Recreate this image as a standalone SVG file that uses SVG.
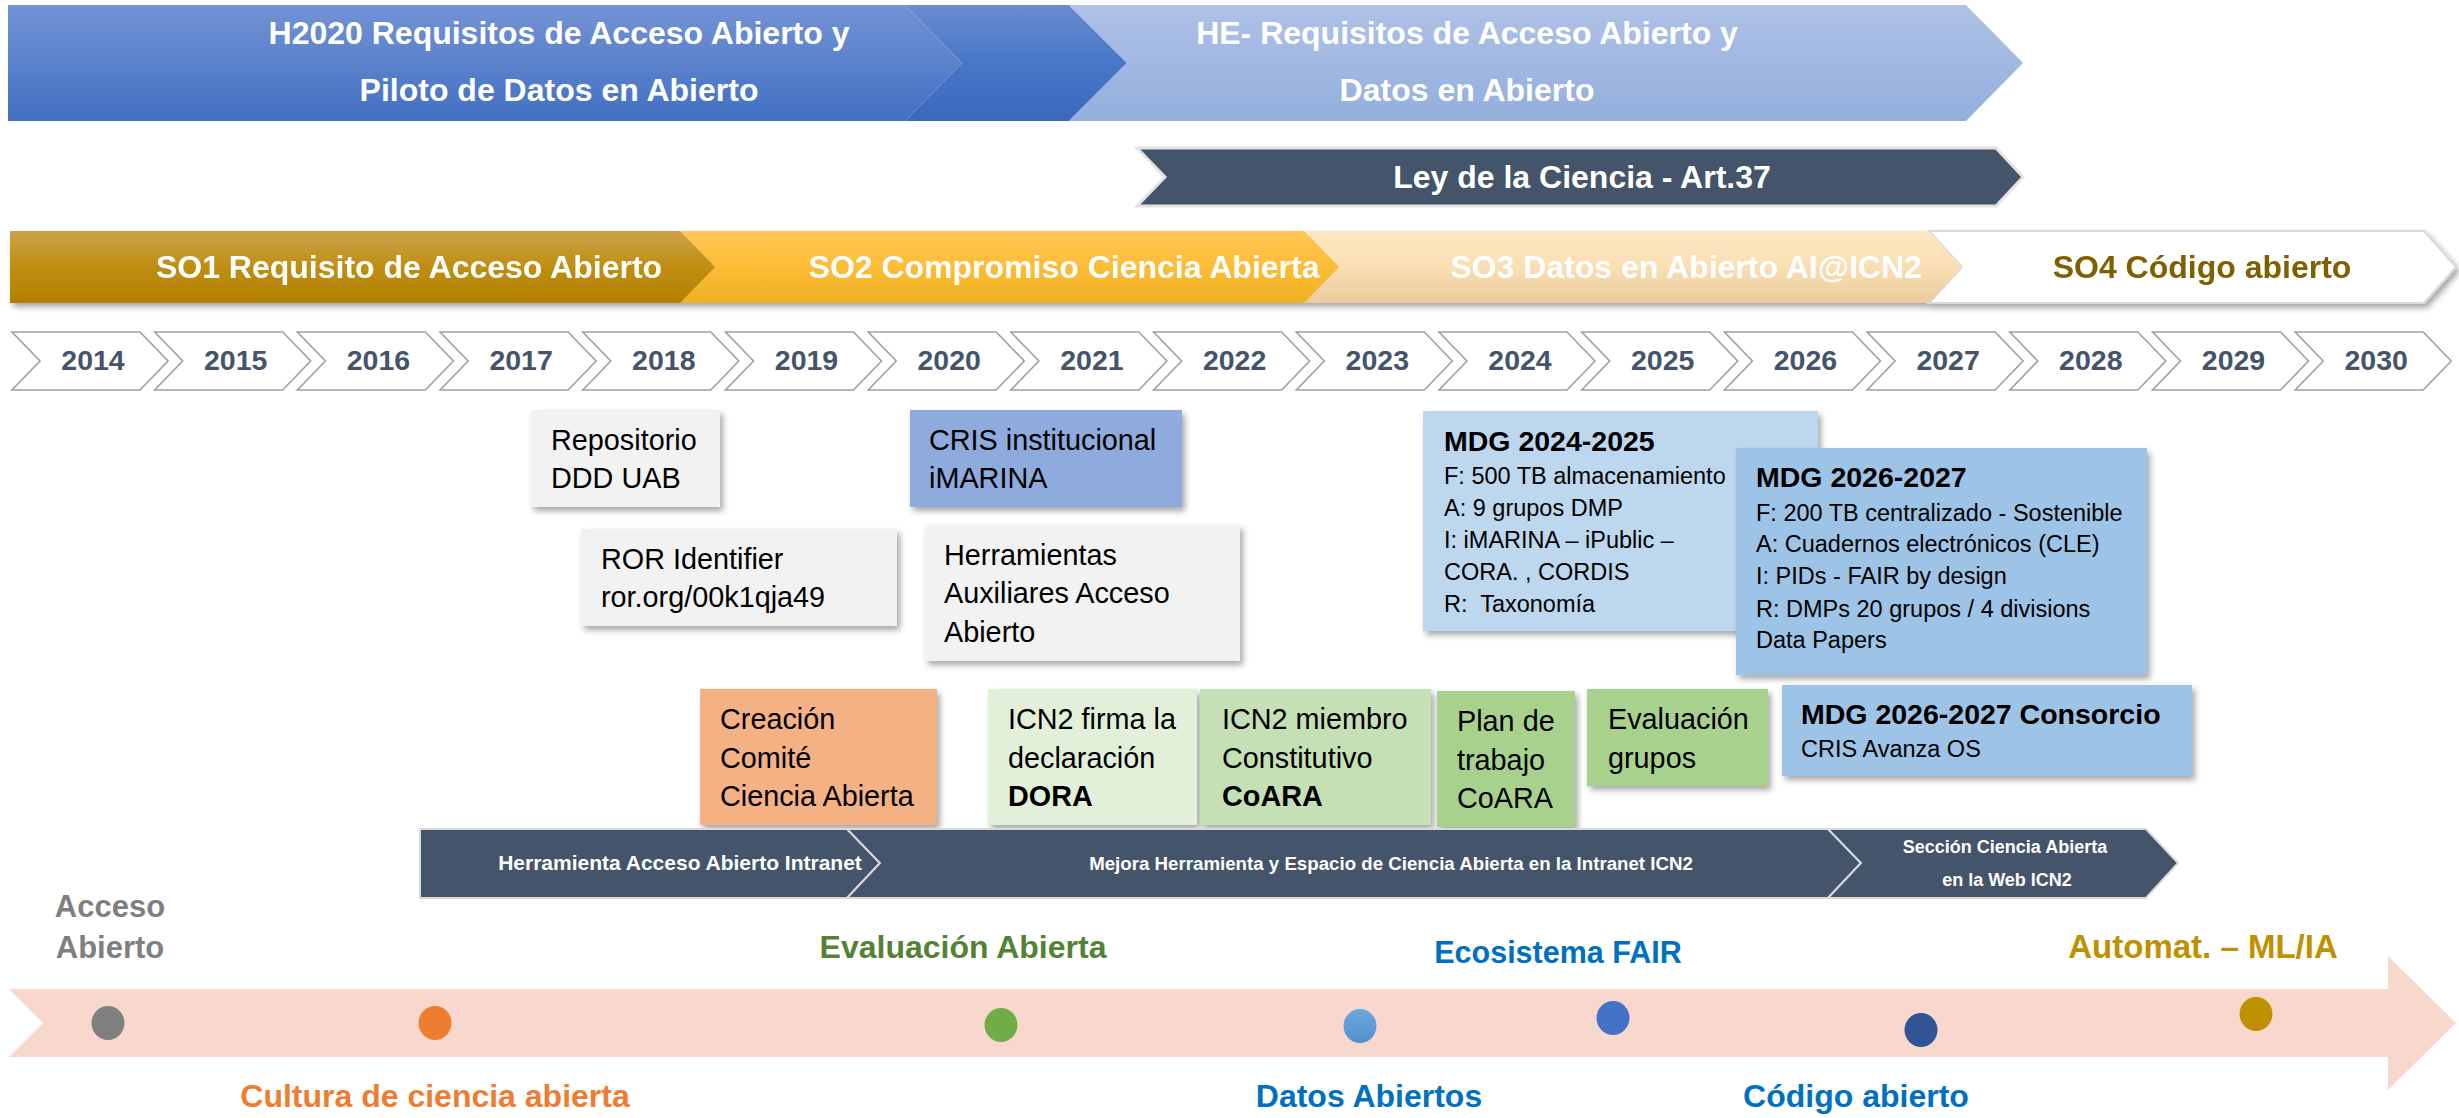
<svg xmlns="http://www.w3.org/2000/svg" xmlns:xlink="http://www.w3.org/1999/xlink" width="2459" height="1118" viewBox="0 0 2459 1118">
<style>
text{font-family:"Liberation Sans",Arial,sans-serif;}
.bw{fill:#ffffff;font-weight:bold;font-size:32px;text-anchor:middle;}
.yr{fill:#44546a;font-weight:bold;font-size:28.5px;text-anchor:middle;}
.bx{fill:#000000;font-size:28.8px;}
.bxb{font-weight:bold;}
.md{fill:#000000;font-size:23.5px;}
.mdt{fill:#000000;font-size:28.5px;font-weight:bold;}
.lab{font-weight:bold;font-size:32px;text-anchor:middle;}
.band{fill:#44546a;stroke:#d9d9d9;stroke-width:2;}
.ybox{fill:#ffffff;stroke:#a0a0a0;stroke-width:1.6;}
</style>
<defs>
<linearGradient id="gH" x1="0" y1="0" x2="0" y2="1"><stop offset="0" stop-color="#7393d4"/><stop offset="1" stop-color="#4270c2"/></linearGradient>
<linearGradient id="gH2" x1="0" y1="0" x2="0" y2="1"><stop offset="0" stop-color="#6a8bd1"/><stop offset="0.5" stop-color="#4877c8"/><stop offset="1" stop-color="#3c68bd"/></linearGradient>
<linearGradient id="gHE" x1="0" y1="0" x2="0" y2="1"><stop offset="0" stop-color="#afc1e7"/><stop offset="1" stop-color="#93afdc"/></linearGradient>
<linearGradient id="gS1" x1="0" y1="0" x2="0" y2="1"><stop offset="0" stop-color="#cba24e"/><stop offset="0.5" stop-color="#c08e10"/><stop offset="1" stop-color="#b27f00"/></linearGradient>
<linearGradient id="gS2" x1="0" y1="0" x2="0" y2="1"><stop offset="0" stop-color="#ffc655"/><stop offset="0.5" stop-color="#fcbd36"/><stop offset="1" stop-color="#efb022"/></linearGradient>
<linearGradient id="gS3" x1="0" y1="0" x2="0" y2="1"><stop offset="0" stop-color="#fee6c2"/><stop offset="0.5" stop-color="#fadfb4"/><stop offset="1" stop-color="#e9cb9c"/></linearGradient>
<linearGradient id="gDot" x1="0" y1="0" x2="0" y2="1"><stop offset="0" stop-color="#6fa8dc"/><stop offset="1" stop-color="#4f8fd0"/></linearGradient>
<filter id="sh" x="-5%" y="-10%" width="110%" height="140%">
<feGaussianBlur in="SourceAlpha" stdDeviation="3"/>
<feOffset dx="3" dy="4" result="o"/>
<feComponentTransfer><feFuncA type="linear" slope="0.35"/></feComponentTransfer>
<feMerge><feMergeNode/><feMergeNode in="SourceGraphic"/></feMerge>
</filter>
<polygon id="yrshape" points="0,332 128,332 156,361 128,390 0,390 28,361"/>
</defs>

<g id="banner-h2020">
<polygon points="8,5 905,5 962,63 905,121 8,121" fill="url(#gH)"/>
<polygon points="905,5 1069,5 1127,63 1069,121 905,121 962,63" fill="url(#gH2)"/>
<text class="bw" x="559" y="44">H2020 Requisitos de Acceso Abierto y</text>
<text class="bw" x="559" y="101">Piloto de Datos en Abierto</text>
</g>
<g id="banner-he">
<polygon points="1069,5 1966,5 2023,63 1966,121 1069,121 1127,63" fill="url(#gHE)"/>
<text class="bw" x="1467" y="44">HE- Requisitos de Acceso Abierto y</text>
<text class="bw" x="1467" y="101">Datos en Abierto</text>
</g>
<g id="banner-ley">
<polygon points="1137,148 1996,148 2023,177 1996,206 1137,206 1165,177" fill="#44546a" stroke="#e3e3e3" stroke-width="3"/>
<text class="bw" x="1582" y="188">Ley de la Ciencia - Art.37</text>
</g>

<g id="so-row" filter="url(#sh)">
<g id="so4">
<polygon points="1929,231 2424,231 2456,267 2424,303 1929,303 1962,267" fill="#ffffff" stroke="#d9d9d9" stroke-width="2"/>
<text class="bw" x="2202" y="278" style="fill:#7f6000">SO4 Código abierto</text>
</g>
<g id="so3">
<polygon points="1304,231 1929,231 1962,267 1929,303 1304,303 1339,267" fill="url(#gS3)"/>
<text class="bw" x="1686" y="278">SO3 Datos en Abierto AI@ICN2</text>
</g>
<g id="so2">
<polygon points="680,231 1304,231 1339,267 1304,303 680,303 715,267" fill="url(#gS2)"/>
<text class="bw" x="1064" y="278">SO2 Compromiso Ciencia Abierta</text>
</g>
<g id="so1">
<polygon points="10,231 680,231 715,267 680,303 10,303" fill="url(#gS1)"/>
<text class="bw" x="409" y="278">SO1 Requisito de Acceso Abierto</text>
</g>
</g>

<g id="years">
<use href="#yrshape" x="12" class="ybox"/><text class="yr" x="93" y="370">2014</text>
<use href="#yrshape" x="154.7" class="ybox"/><text class="yr" x="235.7" y="370">2015</text>
<use href="#yrshape" x="297.4" class="ybox"/><text class="yr" x="378.4" y="370">2016</text>
<use href="#yrshape" x="440.1" class="ybox"/><text class="yr" x="521.1" y="370">2017</text>
<use href="#yrshape" x="582.8" class="ybox"/><text class="yr" x="663.8" y="370">2018</text>
<use href="#yrshape" x="725.5" class="ybox"/><text class="yr" x="806.5" y="370">2019</text>
<use href="#yrshape" x="868.2" class="ybox"/><text class="yr" x="949.2" y="370">2020</text>
<use href="#yrshape" x="1010.9" class="ybox"/><text class="yr" x="1091.9" y="370">2021</text>
<use href="#yrshape" x="1153.6" class="ybox"/><text class="yr" x="1234.6" y="370">2022</text>
<use href="#yrshape" x="1296.3" class="ybox"/><text class="yr" x="1377.3" y="370">2023</text>
<use href="#yrshape" x="1439" class="ybox"/><text class="yr" x="1520" y="370">2024</text>
<use href="#yrshape" x="1581.7" class="ybox"/><text class="yr" x="1662.7" y="370">2025</text>
<use href="#yrshape" x="1724.4" class="ybox"/><text class="yr" x="1805.4" y="370">2026</text>
<use href="#yrshape" x="1867.1" class="ybox"/><text class="yr" x="1948.1" y="370">2027</text>
<use href="#yrshape" x="2009.8" class="ybox"/><text class="yr" x="2090.8" y="370">2028</text>
<use href="#yrshape" x="2152.5" class="ybox"/><text class="yr" x="2233.5" y="370">2029</text>
<use href="#yrshape" x="2295.2" class="ybox"/><text class="yr" x="2376.2" y="370">2030</text>
</g>

<g id="box-repositorio">
<rect x="531" y="410" width="189" height="97" fill="#f2f2f2" filter="url(#sh)"/>
<text class="bx" x="551" y="450">Repositorio</text>
<text class="bx" x="551" y="488">DDD UAB</text>
</g>
<g id="box-cris">
<rect x="910" y="410" width="272" height="97" fill="#8faadc" filter="url(#sh)"/>
<text class="bx" x="929" y="450">CRIS institucional</text>
<text class="bx" x="929" y="488">iMARINA</text>
</g>
<g id="box-ror">
<rect x="581" y="529" width="316" height="97" fill="#f2f2f2" filter="url(#sh)"/>
<text class="bx" x="601" y="569">ROR Identifier</text>
<text class="bx" x="601" y="607">ror.org/00k1qja49</text>
</g>
<g id="box-herramientas">
<rect x="925" y="525" width="315" height="136" fill="#f2f2f2" filter="url(#sh)"/>
<text class="bx" x="944" y="565">Herramientas</text>
<text class="bx" x="944" y="603">Auxiliares Acceso</text>
<text class="bx" x="944" y="642">Abierto</text>
</g>
<g id="box-mdg2024">
<rect x="1423" y="411" width="395" height="220" fill="#bdd7ee" filter="url(#sh)"/>
<text class="mdt" x="1444" y="451">MDG 2024-2025</text>
<text class="md" x="1444" y="484">F: 500 TB almacenamiento</text>
<text class="md" x="1444" y="516">A: 9 grupos DMP</text>
<text class="md" x="1444" y="548">I: iMARINA – iPublic –</text>
<text class="md" x="1444" y="580">CORA. , CORDIS</text>
<text class="md" x="1444" y="612" xml:space="preserve">R:  Taxonomía</text>
</g>
<g id="box-mdg2026">
<rect x="1736" y="448" width="411" height="227" fill="#9dc3e6" filter="url(#sh)"/>
<text class="mdt" x="1756" y="487">MDG 2026-2027</text>
<text class="md" x="1756" y="521">F: 200 TB centralizado - Sostenible</text>
<text class="md" x="1756" y="552">A: Cuadernos electrónicos (CLE)</text>
<text class="md" x="1756" y="584">I: PIDs - FAIR by design</text>
<text class="md" x="1756" y="617">R: DMPs 20 grupos / 4 divisions</text>
<text class="md" x="1756" y="648">Data Papers</text>
</g>
<g id="box-creacion">
<rect x="700" y="689" width="237" height="136" fill="#f4b183" filter="url(#sh)"/>
<text class="bx" x="720" y="729">Creación</text>
<text class="bx" x="720" y="768">Comité</text>
<text class="bx" x="720" y="806">Ciencia Abierta</text>
</g>
<g id="box-dora">
<rect x="988" y="689" width="209" height="136" fill="#e2f0d9" filter="url(#sh)"/>
<text class="bx" x="1008" y="729">ICN2 firma la</text>
<text class="bx" x="1008" y="768">declaración</text>
<text class="bx bxb" x="1008" y="806">DORA</text>
</g>
<g id="box-coara">
<rect x="1200" y="689" width="231" height="136" fill="#c5e0b4" filter="url(#sh)"/>
<text class="bx" x="1222" y="729">ICN2 miembro</text>
<text class="bx" x="1222" y="768">Constitutivo</text>
<text class="bx bxb" x="1222" y="806">CoARA</text>
</g>
<g id="box-plan">
<rect x="1437" y="691" width="138" height="136" fill="#a9d18e" filter="url(#sh)"/>
<text class="bx" x="1457" y="731">Plan de</text>
<text class="bx" x="1457" y="770">trabajo</text>
<text class="bx" x="1457" y="808">CoARA</text>
</g>
<g id="box-evaluacion">
<rect x="1587" y="689" width="181" height="97" fill="#a9d18e" filter="url(#sh)"/>
<text class="bx" x="1608" y="729">Evaluación</text>
<text class="bx" x="1608" y="768">grupos</text>
</g>
<g id="box-consorcio">
<rect x="1782" y="685" width="410" height="91" fill="#9dc3e6" filter="url(#sh)"/>
<text class="mdt" x="1801" y="724">MDG 2026-2027 Consorcio</text>
<text class="md" x="1801" y="757">CRIS Avanza OS</text>
</g>

<g id="intranet-band">
<polygon class="band" points="420,829 847,829 880,863 847,898 420,898"/>
<polygon class="band" points="847,829 1828,829 1861,863 1828,898 847,898 880,863"/>
<polygon class="band" points="1828,829 2146,829 2178,863 2146,898 1828,898 1861,863"/>
<text class="bw" x="680" y="870" style="font-size:21px">Herramienta Acceso Abierto Intranet</text>
<text class="bw" x="1391" y="870" style="font-size:18.7px">Mejora Herramienta y Espacio de Ciencia Abierta en la Intranet ICN2</text>
<text class="bw" x="2005" y="853" style="font-size:18px">Sección Ciencia Abierta</text>
<text class="bw" x="2007" y="886" style="font-size:18px">en la Web ICN2</text>
</g>

<g id="timeline-arrow">
<polygon points="9,989 2388,989 2388,956 2456,1023 2388,1090 2388,1057 9,1057 43,1023" fill="#f8d8cc"/>
</g>

<g id="milestones">
<g id="m-acceso">
<ellipse cx="108" cy="1023" rx="16.5" ry="17" fill="#7f7f7f"/>
<text class="lab" x="110" y="917" style="fill:#7f7f7f;font-size:31px">Acceso</text>
<text class="lab" x="110" y="958" style="fill:#7f7f7f;font-size:31px">Abierto</text>
</g>
<g id="m-cultura">
<ellipse cx="435" cy="1023" rx="16.5" ry="17" fill="#ed7d31"/>
<text class="lab" x="435" y="1107" style="fill:#ed7d31">Cultura de ciencia abierta</text>
</g>
<g id="m-evaluacion">
<ellipse cx="1001" cy="1025" rx="16.5" ry="17" fill="#70ad47"/>
<text class="lab" x="963" y="958" style="fill:#548235">Evaluación Abierta</text>
</g>
<g id="m-datos">
<ellipse cx="1360" cy="1026" rx="16.5" ry="17" fill="url(#gDot)"/>
<text class="lab" x="1369" y="1107" style="fill:#0070c0">Datos Abiertos</text>
</g>
<g id="m-fair">
<ellipse cx="1613" cy="1018" rx="16.5" ry="17" fill="#4472c4"/>
<text class="lab" x="1558" y="963" style="fill:#0070c0;font-size:30.5px">Ecosistema FAIR</text>
</g>
<g id="m-codigo">
<ellipse cx="1921" cy="1030" rx="16.5" ry="17" fill="#2f5597"/>
<text class="lab" x="1856" y="1107" style="fill:#0070c0">Código abierto</text>
</g>
<g id="m-automat">
<ellipse cx="2256" cy="1014" rx="16.5" ry="17" fill="#bf9000"/>
<text class="lab" x="2203" y="958" style="fill:#bf9000;font-size:33px">Automat. – ML/IA</text>
</g>
</g>
</svg>
